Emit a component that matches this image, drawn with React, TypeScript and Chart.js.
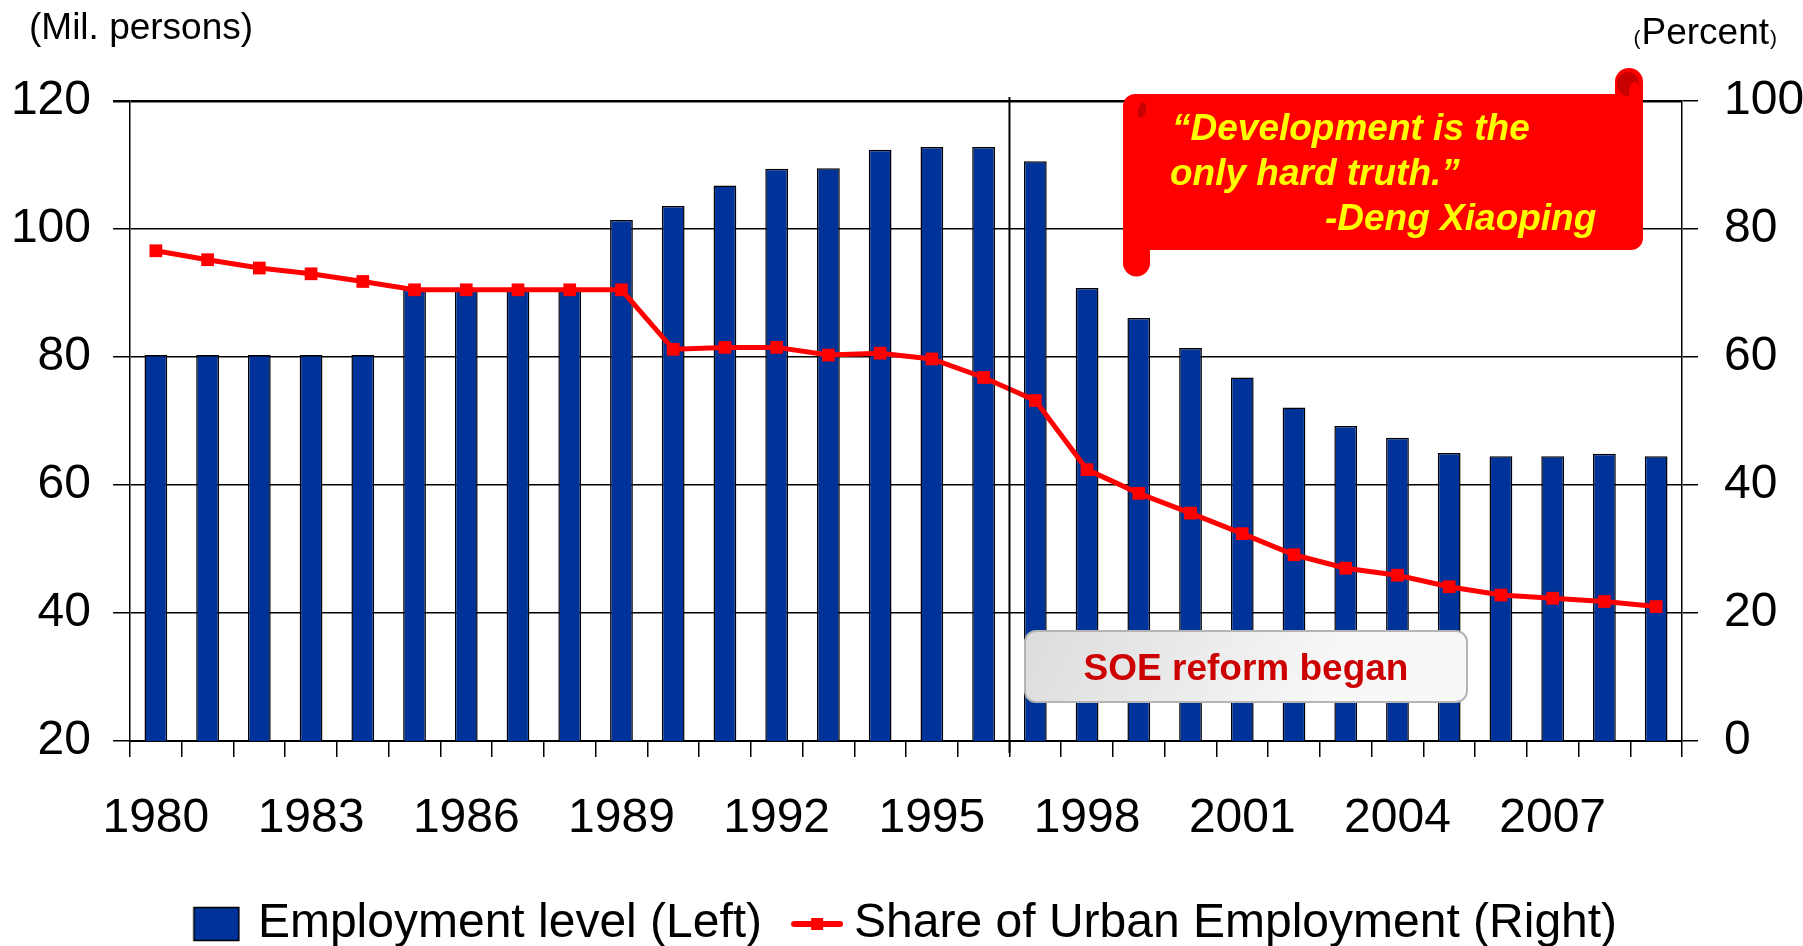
import React, { useEffect, useRef } from 'react';
import { Chart, registerables } from 'chart.js';

Chart.register(...registerables);

const YEARS = [
  '1980', '1981', '1982', '1983', '1984', '1985', '1986', '1987', '1988', '1989',
  '1990', '1991', '1992', '1993', '1994', '1995', '1996', '1997', '1998', '1999',
  '2000', '2001', '2002', '2003', '2004', '2005', '2006', '2007', '2008', '2009',
];

// Employment level, million persons (left axis)
const EMPLOYMENT = [
  80.3, 80.3, 80.3, 80.3, 80.3, 90.5, 90.5, 90.5, 90.5, 101.4,
  103.6, 106.8, 109.4, 109.5, 112.4, 112.8, 112.8, 110.6, 90.8, 86.1,
  81.4, 76.8, 72.1, 69.2, 67.4, 65.0, 64.5, 64.5, 64.9, 64.5,
];

// Share of urban employment, percent (right axis)
const URBAN_SHARE = [
  76.6, 75.2, 73.9, 73.0, 71.8, 70.5, 70.5, 70.5, 70.5, 70.5,
  61.2, 61.5, 61.5, 60.3, 60.6, 59.7, 56.8, 53.2, 42.4, 38.7,
  35.6, 32.4, 29.1, 27.0, 25.9, 24.1, 22.8, 22.3, 21.8, 21.0,
];

const LEFT_AXIS = { min: 20, max: 120, step: 20 };
const RIGHT_AXIS = { min: 0, max: 100, step: 20 };
const LABEL_EVERY = 3;
const REFORM_YEAR_INDEX = 17; // line drawn before 1997

const LEGEND_LABELS = ['Employment level (Left)', 'Share of Urban Employment (Right)'];
const QUOTE_LINES = ['\u201CDevelopment is the', 'only hard truth.\u201D', '-Deng Xiaoping'];
const REFORM_LABEL = 'SOE reform began';
const LEFT_TITLE = '(Mil. persons)';
const RIGHT_TITLE = 'Percent';

const FONT = '"Liberation Sans", Arial, Helvetica, sans-serif';
const BLUE = '#003399';
const RED = '#ff0000';

const W = 1803;
const H = 958;

function makeBarSwatch() {
  const c = document.createElement('canvas');
  c.width = 61;
  c.height = 36;
  const g = c.getContext('2d')!;
  g.fillStyle = BLUE;
  g.fillRect(14.5, 1.5, 45, 33);
  g.strokeStyle = '#000';
  g.lineWidth = 1.5;
  g.strokeRect(14.5, 1.5, 45, 33);
  return c;
}

function makeLineSwatch() {
  const c = document.createElement('canvas');
  c.width = 74;
  c.height = 16;
  const g = c.getContext('2d')!;
  g.strokeStyle = RED;
  g.lineWidth = 6;
  g.lineCap = 'round';
  g.beginPath();
  g.moveTo(25, 8);
  g.lineTo(71, 8);
  g.stroke();
  g.fillStyle = RED;
  g.fillRect(42, 2, 12, 12);
  return c;
}

function roundRectPath(ctx: CanvasRenderingContext2D, x: number, y: number, w: number, h: number, r: number) {
  ctx.beginPath();
  ctx.moveTo(x + r, y);
  ctx.lineTo(x + w - r, y);
  ctx.arcTo(x + w, y, x + w, y + r, r);
  ctx.lineTo(x + w, y + h - r);
  ctx.arcTo(x + w, y + h, x + w - r, y + h, r);
  ctx.lineTo(x + r, y + h);
  ctx.arcTo(x, y + h, x, y + h - r, r);
  ctx.lineTo(x, y + r);
  ctx.arcTo(x, y, x + r, y, r);
  ctx.closePath();
}

const annotationPlugin = {
  id: 'annotations',
  afterDatasetsDraw(chart: any) {
    const { ctx, chartArea, scales } = chart;
    const xs = scales.x;
    const xb = (xs.getPixelForValue(REFORM_YEAR_INDEX - 1) + xs.getPixelForValue(REFORM_YEAR_INDEX)) / 2;
    ctx.save();
    ctx.strokeStyle = '#000';
    ctx.lineWidth = 2;
    ctx.beginPath();
    ctx.moveTo(xb, chartArea.top - 4);
    ctx.lineTo(xb, chartArea.bottom + 12);
    ctx.stroke();
    ctx.restore();
  },
  afterDraw(chart: any) {
    const { ctx } = chart;
    ctx.save();

    // axis titles
    ctx.fillStyle = '#000';
    ctx.textBaseline = 'alphabetic';
    ctx.textAlign = 'left';
    ctx.font = `37px ${FONT}`;
    ctx.fillText(LEFT_TITLE, 29, 39);

    const rightEnd = 1776;
    ctx.font = `21px ${FONT}`;
    const pw = ctx.measureText(')').width;
    ctx.font = `37px ${FONT}`;
    const tw = ctx.measureText(RIGHT_TITLE).width;
    const px0 = rightEnd - pw - tw;
    ctx.fillText(RIGHT_TITLE, px0, 44);
    ctx.font = `21px ${FONT}`;
    const lw = ctx.measureText('(').width;
    ctx.fillText('(', px0 - lw - 1, 45);
    ctx.fillText(')', px0 + tw + 1, 45);

    // SOE reform box
    const bx = 1025, by = 631, bw = 442, bh = 71;
    const grad = ctx.createLinearGradient(bx, by, bx + bw * 0.6, by + bh * 2);
    grad.addColorStop(0, '#dcdcdc');
    grad.addColorStop(1, '#f8f8f8');
    roundRectPath(ctx, bx, by, bw, bh, 11);
    ctx.fillStyle = grad;
    ctx.fill();
    ctx.strokeStyle = '#b4b4b4';
    ctx.lineWidth = 2;
    ctx.stroke();
    ctx.fillStyle = '#cc0000';
    ctx.font = `bold 37px ${FONT}`;
    ctx.textAlign = 'center';
    ctx.textBaseline = 'alphabetic';
    ctx.fillText(REFORM_LABEL, bx + bw / 2, 680);

    // red scroll banner
    ctx.fillStyle = RED;
    roundRectPath(ctx, 1123, 94, 520, 156, 12);
    ctx.fill();
    // bottom-left tail
    ctx.beginPath();
    ctx.moveTo(1123, 230);
    ctx.lineTo(1123, 263);
    ctx.arc(1136.5, 263, 13.5, Math.PI, 0, true);
    ctx.lineTo(1150, 230);
    ctx.closePath();
    ctx.fill();
    // top-right curl
    ctx.beginPath();
    ctx.moveTo(1615, 110);
    ctx.lineTo(1615, 82);
    ctx.arc(1629, 82, 14, Math.PI, 0, false);
    ctx.lineTo(1643, 110);
    ctx.closePath();
    ctx.fill();
    ctx.fillStyle = '#c80000';
    ctx.beginPath();
    ctx.ellipse(1628, 84, 11, 12, 0, 0, Math.PI * 2);
    ctx.fill();
    ctx.fillStyle = RED;
    ctx.beginPath();
    ctx.ellipse(1634, 90, 5, 8, 0.2, 0, Math.PI * 2);
    ctx.fill();
    // small mark on upper-left
    ctx.fillStyle = '#c80000';
    ctx.beginPath();
    ctx.ellipse(1142, 110, 4, 8, 0.25, 0, Math.PI * 2);
    ctx.fill();

    // quote text
    ctx.fillStyle = '#ffff00';
    ctx.font = `italic bold 37px ${FONT}`;
    ctx.textAlign = 'left';
    ctx.fillText(QUOTE_LINES[0], 1172, 140);
    ctx.fillText(QUOTE_LINES[1], 1170, 185);
    ctx.fillText(QUOTE_LINES[2], 1325, 230);

    ctx.restore();
  },
};

export default function App() {
  const ref = useRef<HTMLCanvasElement | null>(null);

  useEffect(() => {
    if (!ref.current) return;
    const barSwatch = makeBarSwatch();
    const lineSwatch = makeLineSwatch();
    const tickFont = { family: FONT, size: 48 };

    const chart = new Chart(ref.current, {
      type: 'bar',
      data: {
        labels: YEARS,
        datasets: [
          {
            type: 'line',
            label: LEGEND_LABELS[1],
            data: URBAN_SHARE,
            yAxisID: 'y1',
            borderColor: RED,
            backgroundColor: RED,
            borderWidth: 5,
            pointStyle: 'rect',
            pointRadius: 9,
            pointBorderWidth: 0,
            pointBackgroundColor: RED,
            tension: 0,
            order: 0,
          } as any,
          {
            type: 'bar',
            label: LEGEND_LABELS[0],
            data: EMPLOYMENT,
            yAxisID: 'y',
            backgroundColor: BLUE,
            borderColor: '#000',
            borderWidth: 1.5,
            borderSkipped: 'start',
            barPercentage: 0.44,
            categoryPercentage: 1,
            order: 1,
          } as any,
        ],
      },
      options: {
        responsive: false,
        animation: false,
        devicePixelRatio: 1,
        layout: { padding: { top: 101, left: 0, right: 0, bottom: 0 } },
        plugins: {
          tooltip: { enabled: false },
          title: { display: false },
          legend: {
            display: true,
            position: 'bottom',
            labels: {
              usePointStyle: true,
              pointStyleWidth: 48,
              padding: 20,
              color: '#000',
              font: { family: FONT, size: 48 },
              generateLabels: () => [
                {
                  text: LEGEND_LABELS[0],
                  pointStyle: barSwatch as any,
                  fillStyle: BLUE,
                  strokeStyle: '#000',
                  lineWidth: 0,
                  hidden: false,
                  datasetIndex: 1,
                  fontColor: '#000',
                },
                {
                  text: LEGEND_LABELS[1],
                  pointStyle: lineSwatch as any,
                  fillStyle: RED,
                  strokeStyle: RED,
                  lineWidth: 0,
                  hidden: false,
                  datasetIndex: 0,
                  fontColor: '#000',
                },
              ],
            },
          },
        },
        scales: {
          x: {
            type: 'category',
            offset: true,
            grid: {
              offset: true,
              drawOnChartArea: false,
              color: '#000',
              lineWidth: 1.5,
              tickLength: 16,
            },
            border: { display: true, color: '#000', width: 2 },
            ticks: {
              autoSkip: false,
              maxRotation: 0,
              minRotation: 0,
              padding: 33,
              color: '#000',
              font: tickFont,
              callback: (_v: any, i: number) => (i % LABEL_EVERY === 0 ? YEARS[i] : ''),
            },
            afterFit: (s: any) => {
              s.height = 139;
            },
          },
          y: {
            position: 'left',
            min: LEFT_AXIS.min,
            max: LEFT_AXIS.max,
            ticks: { stepSize: LEFT_AXIS.step, padding: 22, color: '#000', font: tickFont },
            grid: {
              color: '#000',
              lineWidth: (c: any) => (c.tick && c.tick.value === LEFT_AXIS.max ? 2.5 : 1.5),
              tickLength: 17,
            },
            border: { display: true, color: '#000', width: 1.5 },
            afterFit: (s: any) => {
              s.width = 130;
            },
          },
          y1: {
            position: 'right',
            min: RIGHT_AXIS.min,
            max: RIGHT_AXIS.max,
            ticks: { stepSize: RIGHT_AXIS.step, padding: 26, color: '#000', font: tickFont },
            grid: { drawOnChartArea: false, color: '#000', lineWidth: 1.5, tickLength: 16 },
            border: { display: true, color: '#000', width: 1.5 },
            afterFit: (s: any) => {
              s.width = W - 1682;
            },
          },
        },
      } as any,
      plugins: [annotationPlugin],
    });

    return () => {
      chart.destroy();
    };
  }, []);

  return (
    <div
      style={{
        position: 'fixed',
        left: 0,
        top: 0,
        width: 1803,
        height: 946,
        overflow: 'hidden',
        background: '#fff',
      }}
    >
      <canvas ref={ref} width={W} height={H} style={{ display: 'block', width: W, height: H }} />
    </div>
  );
}
